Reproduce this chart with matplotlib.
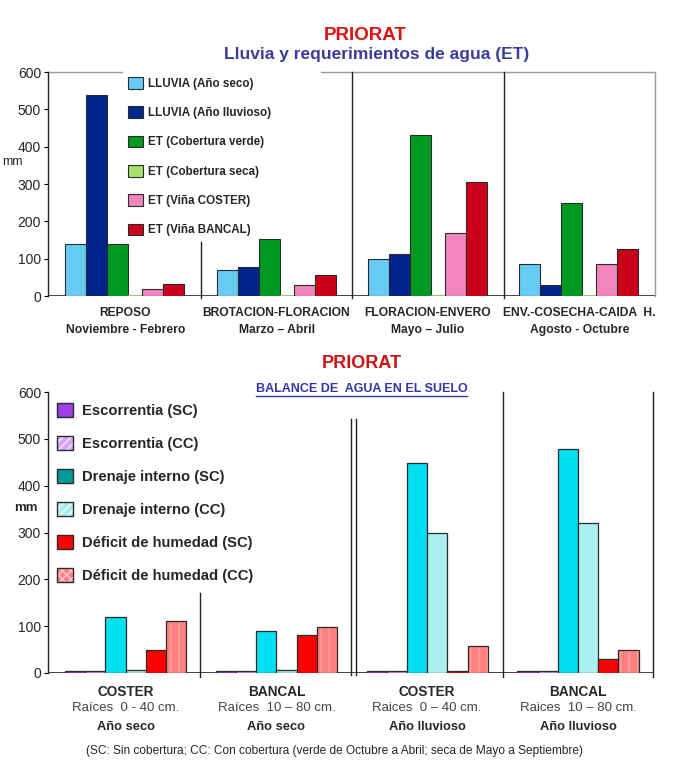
import matplotlib
matplotlib.use('Agg')
import matplotlib.pyplot as plt
from matplotlib.patches import Patch
from matplotlib.lines import Line2D
import numpy as np

plt.rcParams['font.family'] = ['Liberation Sans', 'DejaVu Sans']
plt.rcParams['hatch.linewidth'] = 1.0

# ---------------- data: top chart ----------------
top_categories = ['REPOSO\nNoviembre - Febrero',
                  'BROTACION-FLORACION\nMarzo – Abril',
                  'FLORACION-ENVERO\nMayo – Julio',
                  'ENV.-COSECHA-CAIDA  H.\nAgosto - Octubre']
top_series = ['LLUVIA (Año seco)', 'LLUVIA (Año lluvioso)', 'ET (Cobertura verde)',
              'ET (Cobertura seca)', 'ET (Viña COSTER)', 'ET (Viña BANCAL)']
lluvia_seco = [140, 70, 98, 85]
lluvia_lluvioso = [538, 78, 112, 30]
et_cob_verde = [140, 153, 430, 250]
et_cob_seca = [3, 3, 3, 3]
et_coster = [18, 29, 168, 85]
et_bancal = [31, 57, 305, 126]
top_ticks = [0, 100, 200, 300, 400, 500, 600]

# ---------------- data: bottom chart ----------------
bot_sites = ['COSTER', 'BANCAL', 'COSTER', 'BANCAL']
bot_roots = ['Raíces  0 - 40 cm.', 'Raíces  10 – 80 cm.', 'Raices  0 – 40 cm.', 'Raices  10 – 80 cm.']
bot_years = ['Año seco', 'Año seco', 'Año lluvioso', 'Año lluvioso']
bot_series = ['Escorrentia (SC)', 'Escorrentia (CC)', 'Drenaje interno (SC)',
              'Drenaje interno (CC)', 'Déficit de humedad (SC)', 'Déficit de humedad (CC)']
escorrentia_sc = [5, 5, 5, 5]
escorrentia_cc = [5, 5, 5, 5]
drenaje_sc = [120, 90, 448, 478]
drenaje_cc = [6, 6, 298, 320]
deficit_sc = [49, 81, 5, 30]
deficit_cc = [110, 99, 58, 49]
bot_ticks = [0, 100, 200, 300, 400, 500, 600]

W, H = 675, 767
fig = plt.figure(figsize=(W / 100, H / 100), dpi=100)
fig.patch.set_facecolor('white')

def fx(px):
    return px / W

def fy(py):
    return 1 - py / H

TXT = '#262626'
EDGE = '#2a2a2a'

# ================= TOP CHART =================
ax1 = fig.add_axes([fx(48), fy(296), fx(655) - fx(48), fy(72) - fy(296)])
x = np.arange(len(top_categories))
u = 151.3
top_offsets = np.array([-49.5, -28.5, -7.5, 10.0, 27.5, 48.5]) / u
top_widths = np.array([21, 21, 21, 14, 21, 21]) / u
top_colors = ['#66ccf5', '#00258c', '#009a22', '#a6e06a', '#f285bd', '#cc0018']
top_values = [lluvia_seco, lluvia_lluvioso, et_cob_verde, et_cob_seca, et_coster, et_bancal]
for i, (vals, col) in enumerate(zip(top_values, top_colors)):
    if i == 3:
        ax1.bar(x + top_offsets[i], vals, top_widths[i], color=col, edgecolor=col,
                linewidth=0.5, zorder=3)
    else:
        ax1.bar(x + top_offsets[i], vals, top_widths[i], color=col, edgecolor=EDGE,
                linewidth=0.8, zorder=3)

ax1.set_xlim(-0.51, 3.50)
ax1.set_ylim(0, 600)
ax1.set_yticks(top_ticks)
ax1.set_yticklabels([str(t) for t in top_ticks], fontsize=10, color=TXT)
ax1.tick_params(axis='y', length=3, width=0.8, pad=2)
ax1.set_xticks([])
for s in ['top', 'bottom']:
    ax1.spines[s].set_visible(False)
ax1.spines['left'].set_color('#222222')
ax1.spines['left'].set_linewidth(1.0)
ax1.spines['right'].set_color('#9a9a9a')
ax1.spines['right'].set_linewidth(1.0)
ax1.axhline(0, color='#222222', lw=1.2, zorder=2)
ax1.axhline(600, xmin=0, xmax=0.122, color='#9a9a9a', lw=1.0, clip_on=False)
ax1.axhline(600, xmin=0.45, xmax=1, color='#9a9a9a', lw=1.0, clip_on=False)
# group separators
ax1.plot([0.5, 0.5], [-6, 145], color='#222222', lw=1.0, clip_on=False, zorder=4)
ax1.plot([1.5, 1.5], [-6, 600], color='#222222', lw=1.0, clip_on=False, zorder=4)
ax1.plot([2.5, 2.5], [-6, 600], color='#222222', lw=1.0, clip_on=False, zorder=4)

for i, lab in enumerate(top_categories):
    l1, l2 = lab.split('\n')
    ax1.annotate(l1, xy=(i, 0), xycoords=ax1.get_xaxis_transform(), xytext=(0, -12.3),
                 textcoords='offset points', ha='center', va='center', fontsize=8.7,
                 fontweight='bold', color=TXT)
    ax1.annotate(l2, xy=(i, 0), xycoords=ax1.get_xaxis_transform(), xytext=(0, -24.5),
                 textcoords='offset points', ha='center', va='center', fontsize=8.7,
                 fontweight='bold', color=TXT)
fig.text(fx(12), fy(162), 'mm', fontsize=9, color=TXT, ha='center', va='center')

top_handles = []
for i, col in enumerate(top_colors):
    top_handles.append(Patch(facecolor=col, edgecolor=EDGE, linewidth=0.8))
leg1 = fig.legend(top_handles, top_series, loc='upper left',
                  bbox_to_anchor=(fx(128), fy(77)), bbox_transform=fig.transFigure,
                  frameon=False, borderpad=0, borderaxespad=0,
                  prop={'size': 8.4, 'weight': 'bold'}, handlelength=1.3,
                  handleheight=1.15, handletextpad=0.4, labelspacing=1.42)
for t in leg1.get_texts():
    t.set_color(TXT)

fig.text(fx(365), fy(35), 'PRIORAT', fontsize=13.5, fontweight='bold', color='#dd1111',
         ha='center', va='center')
fig.text(fx(377), fy(54), 'Lluvia y requerimientos de agua (ET)', fontsize=12.5,
         fontweight='bold', color='#3c3c9c', ha='center', va='center')

# ================= BOTTOM CHART =================
ax2 = fig.add_axes([fx(48), fy(673), fx(654) - fx(48), fy(392) - fy(673)])
xb = np.arange(len(bot_sites))
bw = 20.2 / 150.8
bot_offsets = (np.arange(6) - 2.5) * bw
bot_values = [escorrentia_sc, escorrentia_cc, drenaje_sc, drenaje_cc, deficit_sc, deficit_cc]
bot_colors = ['#9933ee', '#cc99ff', '#00e0f2', '#aaf0f0', '#ff0000', '#ff8080']
bot_hatch = [None, None, None, None, None, '||']
bot_hcol = [None, None, None, None, None, '#ffa0a0']
for i, (vals, col) in enumerate(zip(bot_values, bot_colors)):
    if bot_hatch[i]:
        ax2.bar(xb + bot_offsets[i], vals, bw, color=col, edgecolor=bot_hcol[i],
                hatch=bot_hatch[i], linewidth=0, zorder=3)
        ax2.bar(xb + bot_offsets[i], vals, bw, fill=False, edgecolor=EDGE,
                linewidth=0.9, zorder=3)
    else:
        ax2.bar(xb + bot_offsets[i], vals, bw, color=col, edgecolor=EDGE,
                linewidth=0.9, zorder=3)

ax2.set_xlim(-0.514, 3.504)
ax2.set_ylim(0, 600)
ax2.set_yticks(bot_ticks)
ax2.set_yticklabels([str(t) for t in bot_ticks], fontsize=10, color=TXT)
ax2.tick_params(axis='y', length=3, width=0.8, pad=2)
ax2.set_xticks([])
for s in ['top', 'bottom', 'right']:
    ax2.spines[s].set_visible(False)
ax2.spines['left'].set_color('#222222')
ax2.spines['left'].set_linewidth(1.0)
ax2.axhline(0, color='#222222', lw=1.2, zorder=2)
ax2.plot([0.494, 0.494], [-8, 171], color='#222222', lw=1.0, clip_on=False, zorder=4)
ax2.plot([1.495, 1.495], [-4, 543], color='#222222', lw=1.0, clip_on=False, zorder=4)
ax2.plot([1.529, 1.529], [-4, 543], color='#222222', lw=1.0, clip_on=False, zorder=4)
ax2.plot([2.503, 2.503], [-8, 600], color='#222222', lw=1.0, clip_on=False, zorder=4)
ax2.plot([3.50, 3.50], [-8, 600], color='#222222', lw=1.0, clip_on=False, zorder=4)

for i in range(len(bot_sites)):
    ax2.annotate(bot_sites[i], xy=(i, 0), xycoords=ax2.get_xaxis_transform(),
                 xytext=(0, -13.7), textcoords='offset points', ha='center', va='center',
                 fontsize=9.8, fontweight='bold', color=TXT)
    ax2.annotate(bot_roots[i], xy=(i, 0), xycoords=ax2.get_xaxis_transform(),
                 xytext=(0, -25.2), textcoords='offset points', ha='center', va='center',
                 fontsize=9.5, color='#444444')
    ax2.annotate(bot_years[i], xy=(i, 0), xycoords=ax2.get_xaxis_transform(),
                 xytext=(0, -38.9), textcoords='offset points', ha='center', va='center',
                 fontsize=9.3, fontweight='bold', color=TXT)
fig.text(fx(26), fy(508), 'mm', fontsize=9.5, fontweight='bold', color=TXT,
         ha='center', va='center')

leg_face = ['#a040e8', '#d9a6f5', '#009a9a', '#a8ecec', '#ff0000', '#ff8080']
leg_hatch = [None, '////', None, '////', None, 'xxxx']
leg_hcol = [None, '#f4e6ff', None, '#eaffff', None, '#ffc8c8']
bot_handles = []
for fc, hh, hc in zip(leg_face, leg_hatch, leg_hcol):
    if hh:
        bot_handles.append((Patch(facecolor=fc, edgecolor=hc, hatch=hh, linewidth=0),
                            Patch(fill=False, edgecolor=EDGE, linewidth=1.0)))
    else:
        bot_handles.append(Patch(facecolor=fc, edgecolor=EDGE, linewidth=1.0))
leg2 = fig.legend(bot_handles, bot_series, loc='upper left',
                  bbox_to_anchor=(fx(57), fy(403)), bbox_transform=fig.transFigure,
                  frameon=False, borderpad=0, borderaxespad=0,
                  prop={'size': 10.6, 'weight': 'bold'}, handlelength=1.1,
                  handleheight=1.1, handletextpad=0.6, labelspacing=1.22)
for t in leg2.get_texts():
    t.set_color(TXT)

fig.text(fx(362), fy(363), 'PRIORAT', fontsize=13, fontweight='bold', color='#cc1111',
         ha='center', va='center')
sub2 = fig.text(fx(361.5), fy(389), 'BALANCE DE  AGUA EN EL SUELO', fontsize=9,
                fontweight='bold', color='#3333aa', ha='center', va='center')
fig.canvas.draw()
bb = sub2.get_window_extent()
fig.add_artist(Line2D([bb.x0 / W, bb.x1 / W], [fy(396), fy(396)], color='#3333aa', lw=1.0))

fig.text(fx(334), fy(751), '(SC: Sin cobertura; CC: Con cobertura (verde de Octubre a Abril; '
         'seca de Mayo a Septiembre)', fontsize=8.6, color=TXT, ha='center', va='center')

fig.savefig('out.png', dpi=100, facecolor='white')
